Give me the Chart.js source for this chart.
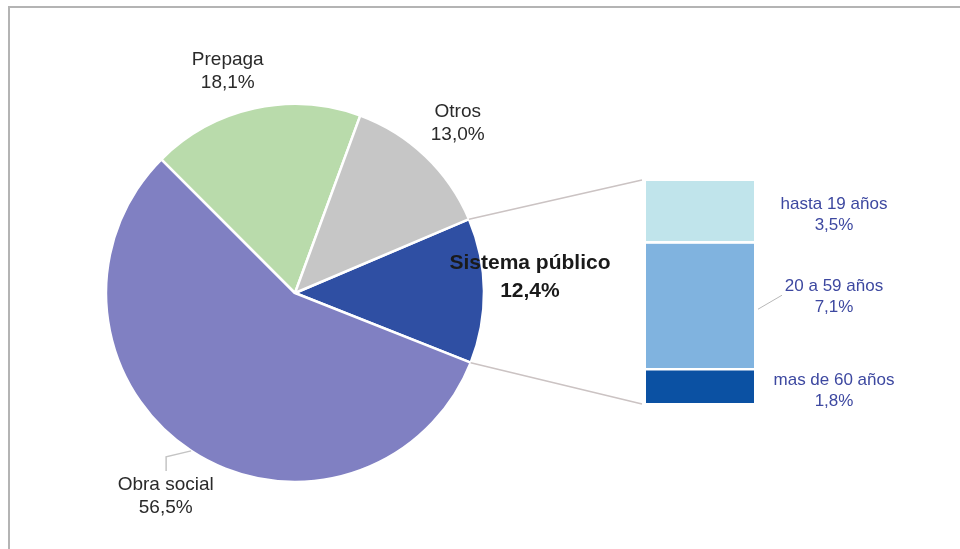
<!DOCTYPE html>
<html>
<head>
<meta charset="utf-8">
<script src="https://cdn.jsdelivr.net/npm/chart.js@4.4.1/dist/chart.umd.min.js"></script>
<style>
  html, body { margin: 0; padding: 0; background: #fff; }
  #wrap { position: relative; width: 960px; height: 549px; overflow: hidden; }
  #frame { position: absolute; left: 8px; top: 6px; right: -4px; bottom: -4px;
           border-top: 2px solid #b4b4b4; border-left: 2px solid #b4b4b4; }
  canvas { position: absolute; left: 0; top: 0; }
</style>
</head>
<body>
<div id="wrap">
  <div id="frame"></div>
  <canvas id="pieChart" width="960" height="549"></canvas>
  <canvas id="barChart" width="960" height="549"></canvas>
</div>
<script>
/* Cobertura de salud */
const categorias = ['Sistema público', 'Obra social', 'Prepaga', 'Otros'];
const porcentajes = [12.4, 56.5, 18.1, 13.0];
const coloresTorta = ['#2f4fa3', '#8080c2', '#b9dbab', '#c6c6c6'];

/* Sistema público por edad (de abajo hacia arriba) */
const edades = ['mas de 60 años', '20 a 59 años', 'hasta 19 años'];
const porcEdad = [1.8, 7.1, 3.5];
const coloresEdad = ['#0b51a3', '#80b3df', '#c0e4eb'];

const fmt = v => v.toFixed(1).replace('.', ',') + '%';

// posicion de cada etiqueta: factor de radio y giro en grados respecto al centro del sector
const ubicEtiqueta = [[1.246, -3.2], [1.275, -0.9], [1.225, -4.5], [1.244, 0.2]];

const etiquetasTorta = {
    id: 'etiquetasTorta',
    afterDatasetsDraw(chart) {
        const ctx = chart.ctx;
        const arcs = chart.getDatasetMeta(0).data;
        ctx.save();
        ctx.textAlign = 'center';
        ctx.textBaseline = 'middle';
        arcs.forEach((arc, i) => {
            const mid = (arc.startAngle + arc.endAngle) / 2 + ubicEtiqueta[i][1] * Math.PI / 180;
            const d = arc.outerRadius * ubicEtiqueta[i][0];
            const x = arc.x + Math.cos(mid) * d;
            const y = arc.y + Math.sin(mid) * d;
            const bold = i === 0;
            const lh = bold ? 28 : 23;
            ctx.fillStyle = bold ? '#1a1a1a' : '#2a2a2a';
            ctx.font = (bold ? 'bold 21px' : '19px') + ' "Liberation Sans", Arial, sans-serif';
            ctx.fillText(categorias[i], x, y - lh / 2);
            ctx.fillText(fmt(porcentajes[i]), x, y + lh / 2);
        });
        // linea guia de Obra social
        const a = arcs[1];
        const m = (a.startAngle + a.endAngle) / 2;
        const px = a.x + Math.cos(m) * a.outerRadius;
        const py = a.y + Math.sin(m) * a.outerRadius;
        ctx.strokeStyle = '#c4c4c4';
        ctx.lineWidth = 1.5;
        ctx.beginPath();
        ctx.moveTo(px, py);
        ctx.lineTo(px - 25, py + 6);
        ctx.lineTo(px - 25, py + 20);
        ctx.stroke();
        ctx.restore();
    }
};

const pieCtx = document.getElementById('pieChart').getContext('2d');
const pieChart = new Chart(pieCtx, {
    type: 'pie',
    data: {
        labels: categorias,
        datasets: [{
            data: porcentajes,
            backgroundColor: coloresTorta,
            borderColor: '#ffffff',
            borderWidth: 2.5
        }]
    },
    options: {
        responsive: false,
        animation: false,
        events: [],
        rotation: 67,
        radius: 189,
        layout: { padding: { left: 105, right: 475, top: 103, bottom: 66 } },
        plugins: { legend: { display: false }, tooltip: { enabled: false } }
    },
    plugins: [etiquetasTorta]
});

// desplazamiento vertical de las etiquetas de la barra
const ajusteEtiqueta = [3, -11, 2];

const detalleBarra = {
    id: 'detalleBarra',
    afterDatasetsDraw(chart) {
        const ctx = chart.ctx;
        const arc = pieChart.getDatasetMeta(0).data[0];
        const top = chart.getDatasetMeta(edades.length - 1).data[0];
        const bottom = chart.getDatasetMeta(0).data[0];
        const left = top.x - top.width / 2;
        const right = top.x + top.width / 2;
        ctx.save();
        // lineas que unen el sector con la barra
        ctx.strokeStyle = '#cbc3c3';
        ctx.lineWidth = 1.5;
        ctx.beginPath();
        ctx.moveTo(arc.x + Math.cos(arc.startAngle) * arc.outerRadius, arc.y + Math.sin(arc.startAngle) * arc.outerRadius);
        ctx.lineTo(left - 4, top.y - 1);
        ctx.moveTo(arc.x + Math.cos(arc.endAngle) * arc.outerRadius, arc.y + Math.sin(arc.endAngle) * arc.outerRadius);
        ctx.lineTo(left - 4, bottom.base + 1);
        ctx.stroke();

        ctx.textAlign = 'center';
        ctx.textBaseline = 'middle';
        ctx.font = '17px "Liberation Sans", Arial, sans-serif';
        edades.forEach((e, i) => {
            const bar = chart.getDatasetMeta(i).data[0];
            const cy = (bar.y + bar.base) / 2 + ajusteEtiqueta[i];
            const x = right + 80;
            ctx.fillStyle = '#3d48a0';
            ctx.fillText(e, x, cy - 10);
            ctx.fillText(fmt(porcEdad[i]), x, cy + 11);
            if (i === 1) {
                ctx.strokeStyle = '#b8b8b8';
                ctx.lineWidth = 1;
                ctx.beginPath();
                ctx.moveTo(right + 4, cy + 13);
                ctx.lineTo(right + 28, cy - 1);
                ctx.stroke();
            }
        });
        ctx.restore();
    }
};

const barCtx = document.getElementById('barChart').getContext('2d');
const barChart = new Chart(barCtx, {
    type: 'bar',
    data: {
        labels: ['Sistema público'],
        datasets: edades.map((e, i) => ({
            label: e,
            data: [porcEdad[i]],
            backgroundColor: coloresEdad[i],
            borderColor: '#ffffff',
            borderSkipped: false,
            borderWidth: i === 0 ? 0 : { top: 0, left: 0, right: 0, bottom: 3 },
            barPercentage: 1,
            categoryPercentage: 1
        }))
    },
    options: {
        responsive: false,
        animation: false,
        events: [],
        layout: { padding: { left: 646, right: 206, top: 181, bottom: 146 } },
        scales: {
            x: { stacked: true, display: false },
            y: { stacked: true, display: false, min: 0, max: 12.4 }
        },
        plugins: { legend: { display: false }, tooltip: { enabled: false } }
    },
    plugins: [detalleBarra]
});
</script>
</body>
</html>
